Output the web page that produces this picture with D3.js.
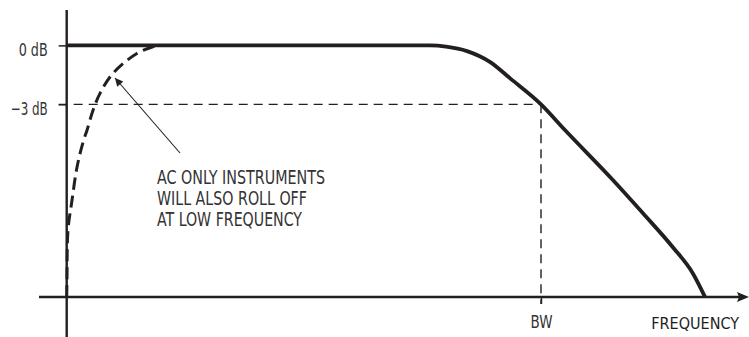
<!DOCTYPE html>
<html>
<head>
<meta charset="utf-8">
<script src="https://cdn.jsdelivr.net/npm/d3@7"></script>
<style>
  html, body { margin: 0; padding: 0; background: #fff; }
  svg { display: block; }
  .lbl { font-family: "Liberation Sans Narrow", "Arial Narrow", "DejaVu Sans Condensed", "Liberation Sans", sans-serif; fill: #333; }
</style>
</head>
<body>
<svg id="chart" width="749" height="337"></svg>
<script>
// Frequency in units of the bandwidth (BW = 1), amplitude in dB.
const rolloffFreq = [0, 0.40, 0.766, 0.800, 0.844, 0.893, 0.935, 1.0, 1.051, 1.152, 1.215, 1.278, 1.320, 1.346];
const rolloffDb   = [0, 0, 0, -0.06, -0.29, -0.85, -1.68, -3.0, -4.32, -6.86, -8.54, -10.27, -11.59, -12.81];

// AC-coupled instruments also roll off at the low end.
const acFreq = [0, 0.0006, 0.0027, 0.0112, 0.0217, 0.0344, 0.0428, 0.0555, 0.0702, 0.0976, 0.148, 0.190];
const acDb   = [-12.81, -11.95, -9.41, -7.88, -6.20, -4.93, -4.32, -3.30, -2.44, -1.42, -0.41, 0];

const yTickValues = [0, -3];
const yTickLabels = ["0 dB", "\u22123 dB"];
const xTickValues = [1];
const xTickLabels = ["BW"];
const xAxisTitle = "FREQUENCY";
const noteLines = ["AC ONLY INSTRUMENTS", "WILL ALSO ROLL OFF", "AT LOW FREQUENCY"];

const svg = d3.select("#chart");
const ink = "#231f20";

const x = d3.scaleLinear().domain([0, 1]).range([66.7, 541]);
const y = d3.scaleLinear().domain([-12.8, 1.8]).range([297, 10]);

const x0 = x(0), yBase = y(-12.8);

// Axes lines
svg.append("line").attr("x1", 39).attr("x2", 741).attr("y1", yBase).attr("y2", yBase)
  .attr("stroke", ink).attr("stroke-width", 2.4);
svg.append("path")
  .attr("d", `M749,${yBase} L737,${yBase - 5} L739,${yBase} L737,${yBase + 5} Z`)
  .attr("fill", ink);
svg.append("line").attr("x1", x0).attr("x2", x0).attr("y1", y(1.8)).attr("y2", 337)
  .attr("stroke", ink).attr("stroke-width", 2.4);

// Y axis ticks and labels
const yAxis = d3.axisLeft(y).tickValues(yTickValues).tickSize(8).tickPadding(11)
  .tickFormat((d, i) => yTickLabels[i]);
const gy = svg.append("g").attr("transform", `translate(${x0},0)`).call(yAxis);
gy.select(".domain").remove();
gy.selectAll(".tick line").attr("stroke", ink).attr("stroke-width", 1.5);
gy.selectAll(".tick text").attr("class", "lbl").attr("font-size", 18).attr("dy", "0.55em")
  .attr("textLength", (d, i) => [29, 37][i]).attr("lengthAdjust", "spacingAndGlyphs");

// X axis tick (BW)
const xAxis = d3.axisBottom(x).tickValues(xTickValues).tickSize(7).tickPadding(0)
  .tickFormat((d, i) => xTickLabels[i]);
const gx = svg.append("g").attr("transform", `translate(0,${yBase})`).call(xAxis);
gx.select(".domain").remove();
gx.selectAll(".tick line").attr("stroke", ink).attr("stroke-width", 1.4);
gx.selectAll(".tick text").attr("class", "lbl").attr("font-size", 17)
  .attr("y", 31).attr("dy", 0).attr("textLength", 22).attr("lengthAdjust", "spacingAndGlyphs");

// Axis title, sized to its natural width
svg.append("text").attr("class", "lbl").attr("x", 739).attr("y", 329)
  .attr("text-anchor", "end")
  .attr("font-size", 16).style("fill", "#1e1e1e")
  .text(xAxisTitle);

// -3 dB reference lines
const bwDb = -3;
svg.append("line").attr("x1", x0 - 8).attr("x2", x(1)).attr("y1", y(bwDb)).attr("y2", y(bwDb))
  .attr("stroke", ink).attr("stroke-width", 1.4).attr("stroke-dasharray", "9,6");
svg.append("line").attr("x1", x(1)).attr("x2", x(1)).attr("y1", y(bwDb)).attr("y2", yBase + 7)
  .attr("stroke", ink).attr("stroke-width", 1.4).attr("stroke-dasharray", "9,6");

// Response curves
const rolloff = rolloffFreq.map((f, i) => [f, rolloffDb[i]]);
const ac = acFreq.map((f, i) => [f, acDb[i]]);

svg.append("path").datum(ac)
  .attr("d", d3.line().x(d => x(d[0])).y(d => y(d[1])).curve(d3.curveCatmullRom.alpha(0.5)))
  .attr("fill", "none").attr("stroke", ink).attr("stroke-width", 3)
  .attr("stroke-dasharray", "12,6");

svg.append("path").datum(rolloff)
  .attr("d", d3.line().x(d => x(d[0])).y(d => y(d[1])).curve(d3.curveMonotoneX))
  .attr("fill", "none").attr("stroke", ink).attr("stroke-width", 3.8);

// Annotation with arrow
svg.append("defs").append("marker")
  .attr("id", "head").attr("viewBox", "0 0 10 10").attr("refX", 10).attr("refY", 5)
  .attr("markerWidth", 11).attr("markerHeight", 8).attr("markerUnits", "userSpaceOnUse")
  .attr("orient", "auto")
  .append("path").attr("d", "M0,0 L10,5 L0,10 Z").attr("fill", ink);

svg.append("line").attr("x1", 180).attr("y1", 153).attr("x2", 115).attr("y2", 78)
  .attr("stroke", ink).attr("stroke-width", 1.1).attr("marker-end", "url(#head)");

const noteLen = [168, 150, 145];
svg.append("g").selectAll("text").data(noteLines).join("text")
  .attr("class", "lbl").attr("x", 157).attr("y", (d, i) => 184 + i * 21)
  .attr("font-size", 19.5)
  .attr("textLength", (d, i) => noteLen[i]).attr("lengthAdjust", "spacingAndGlyphs")
  .text(d => d);
</script>
</body>
</html>
